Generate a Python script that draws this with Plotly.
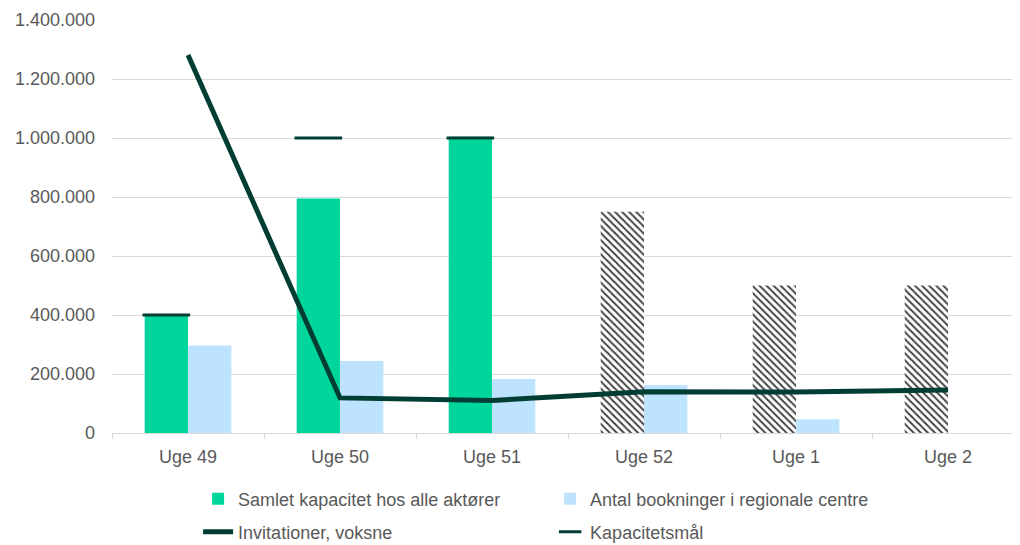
import plotly.graph_objects as go

weeks = ["Uge 49", "Uge 50", "Uge 51", "Uge 52", "Uge 1", "Uge 2"]
kapacitet = [400000, 795000, 1004000, 750000, 500000, 500000]
prognose = [False, False, False, True, True, True]
bookinger = [297000, 244000, 183000, 163000, 47000, None]
invitationer = [1281000, 119000, 110000, 140000, 139000, 146000]
maal = [400000, 1000000, 1000000, None, None, None]
y_ticks = [0, 200000, 400000, 600000, 800000, 1000000, 1200000, 1400000]

GREEN = "#00D69B"
BLUE = "#BDE3FF"
DARK = "#003D33"
TXT = "#595959"
GRID = "#D9D9D9"
FONT = "Liberation Sans, Arial, sans-serif"
FS = 18

idx = list(range(len(weeks)))
w = 0.285

fig = go.Figure()
fig.add_trace(go.Bar(
    x=idx, y=kapacitet, width=w, offset=-w,
    name="Samlet kapacitet hos alle aktører",
    marker=dict(
        color=["white" if p else GREEN for p in prognose],
        line=dict(width=0),
        pattern=dict(
            shape=["\\" if p else "" for p in prognose],
            fgcolor=DARK, fgopacity=1, fillmode="overlay", size=5, solidity=0.4,
        ),
    ),
    legend="legend",
))
fig.add_trace(go.Bar(
    x=idx, y=bookinger, width=w, offset=0,
    name="Antal bookninger i regionale centre",
    marker=dict(color=BLUE, line=dict(width=0)),
    legend="legend",
))
fig.add_trace(go.Scatter(
    x=idx, y=invitationer, mode="lines",
    name="Invitationer, voksne",
    line=dict(color=DARK, width=5),
    legend="legend2",
))
fig.add_trace(go.Scatter(
    x=[i - w / 2 for i in idx], y=maal, mode="markers",
    name="Kapacitetsmål",
    marker=dict(symbol="line-ew", size=34, color=DARK,
                line=dict(color=DARK, width=3)),
    legend="legend2",
))

boundaries = [i + 0.5 for i in range(-1, len(weeks))]

fig.update_layout(
    width=1020, height=545,
    margin=dict(l=104, r=0, t=12, b=120, autoexpand=False),
    paper_bgcolor="white", plot_bgcolor="white",
    separators=",.",
    barmode="overlay",
    font=dict(family=FONT, size=FS, color=TXT),
    xaxis=dict(
        range=[-0.5, 5.526],
        tickmode="array", tickvals=idx, ticktext=weeks,
        showgrid=False, zeroline=False,
        showline=True, linecolor=GRID, linewidth=1,
        ticks="", ticklabelstandoff=7,
        minor=dict(tickmode="array", tickvals=boundaries, ticks="outside",
                   ticklen=5, tickcolor=GRID, tickwidth=1, showgrid=False),
        tickfont=dict(size=FS, color=TXT),
    ),
    yaxis=dict(
        range=[0, 1400000],
        tickmode="array", tickvals=y_ticks,
        tickformat=",d",
        showgrid=True, gridcolor=GRID, gridwidth=1,
        zeroline=False, showline=False,
        ticks="", ticklabelstandoff=16,
        tickfont=dict(size=FS, color=TXT),
    ),
    legend=dict(
        orientation="h", x=0.094, xanchor="left", y=-0.160, yanchor="middle",
        entrywidth=307, entrywidthmode="pixels",
        font=dict(size=FS, color=TXT), bgcolor="rgba(0,0,0,0)",
    ),
    legend2=dict(
        orientation="h", x=0.094, xanchor="left", y=-0.240, yanchor="middle",
        entrywidth=307, entrywidthmode="pixels",
        font=dict(size=FS, color=TXT), bgcolor="rgba(0,0,0,0)",
    ),
)

fig.write_html("out.html")
